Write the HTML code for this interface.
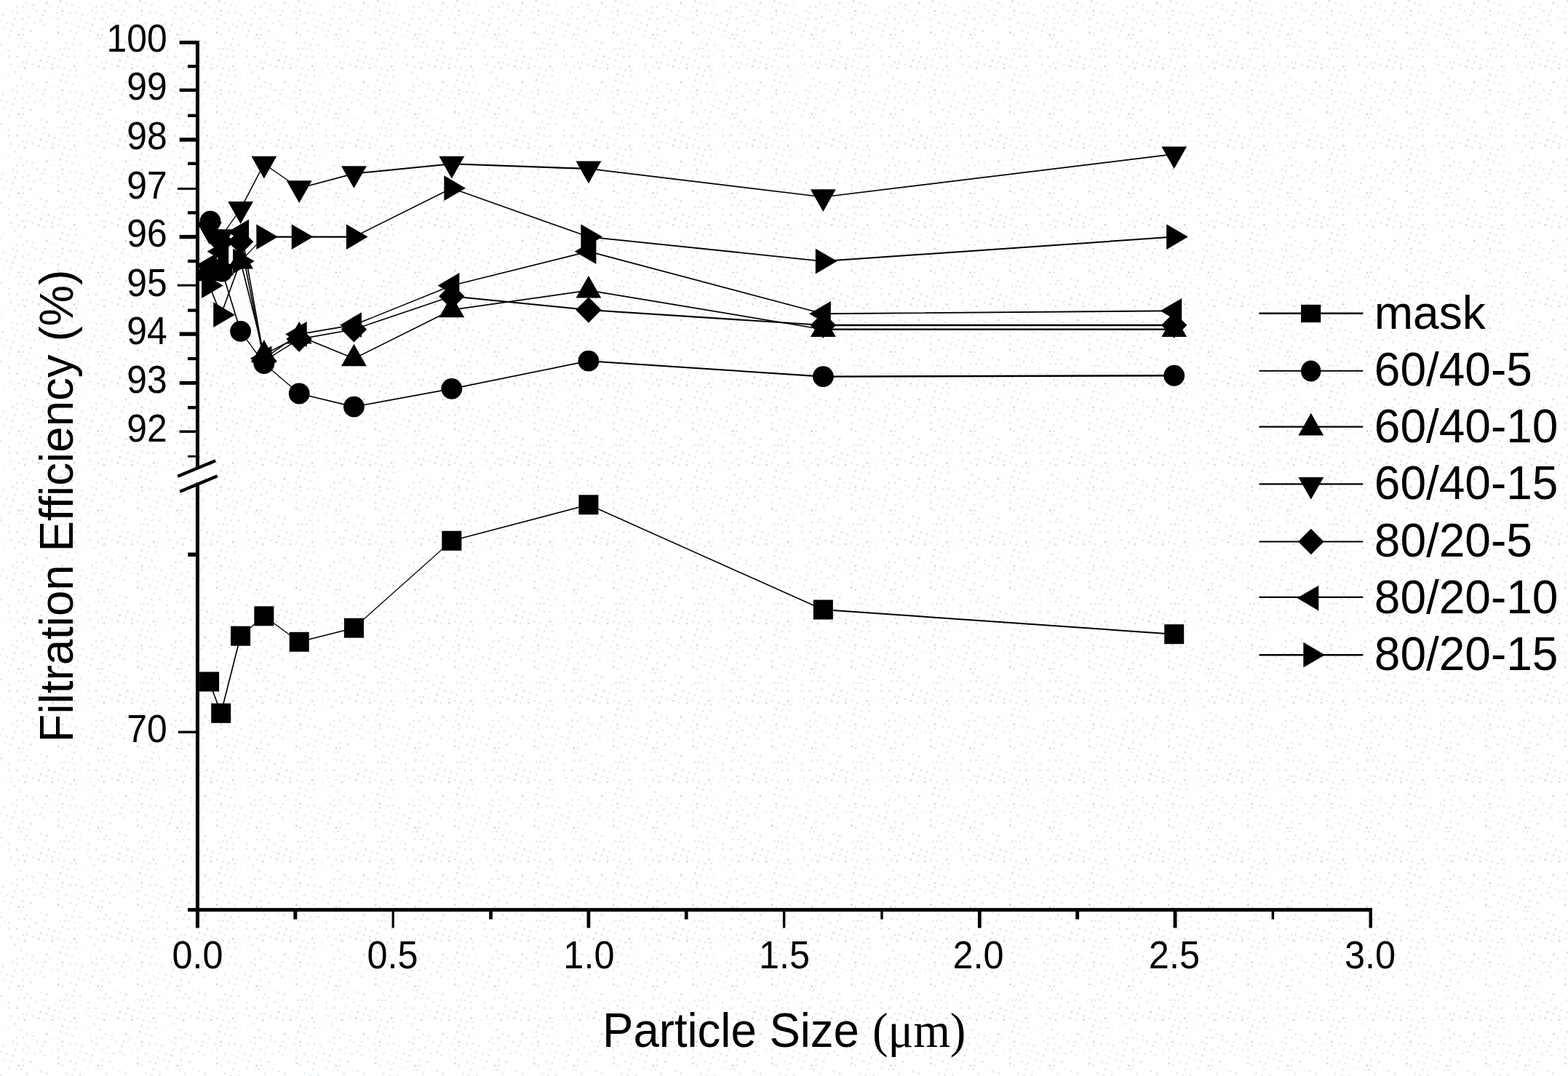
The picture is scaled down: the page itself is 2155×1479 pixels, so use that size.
<!DOCTYPE html>
<html lang="en"><head><meta charset="utf-8">
<title>Filtration Efficiency vs Particle Size</title>
<style>
html,body{margin:0;padding:0;background:#fff;}
body{width:2155px;height:1479px;overflow:hidden;}
svg{display:block;}
text{font-family:"Liberation Sans",sans-serif;fill:#000;}
.tick{font-size:52px;}
.title{font-size:64px;}
.leg{font-size:64px;}
.serif{font-family:"Liberation Serif",serif;}
</style></head><body>
<svg width="2155" height="1479" viewBox="0 0 2155 1479" role="img" aria-label="Filtration efficiency versus particle size">
<defs><pattern id="dots" width="109" height="109" patternUnits="userSpaceOnUse">
<rect x="0" y="0" width="2.7" height="2.7" fill="#effbfb"/><rect x="0" y="27.25" width="2.7" height="2.7" fill="#fcede5"/><rect x="0" y="54.5" width="2.7" height="2.7" fill="#effbfb"/><rect x="106.28" y="84.48" width="2.7" height="2.7" fill="#effbfb"/><rect x="2.73" y="19.07" width="2.7" height="2.7" fill="#e2eee5"/><rect x="0" y="73.58" width="2.7" height="2.7" fill="#effbfb"/><rect x="2.73" y="100.83" width="2.7" height="2.7" fill="#effbfb"/><rect x="5.45" y="38.15" width="2.7" height="2.7" fill="#fcede5"/><rect x="5.45" y="65.4" width="2.7" height="2.7" fill="#effbfb"/><rect x="5.45" y="92.65" width="2.7" height="2.7" fill="#effbfb"/><rect x="8.18" y="29.98" width="2.7" height="2.7" fill="#e2eee5"/><rect x="8.18" y="84.48" width="2.7" height="2.7" fill="#effbfb"/><rect x="10.9" y="49.05" width="2.7" height="2.7" fill="#fcede5"/><rect x="10.9" y="76.3" width="2.7" height="2.7" fill="#e2eee5"/><rect x="10.9" y="103.55" width="2.7" height="2.7" fill="#effbfb"/><rect x="16.35" y="13.62" width="2.7" height="2.7" fill="#e2eee5"/><rect x="13.62" y="40.88" width="2.7" height="2.7" fill="#e2eee5"/><rect x="10.9" y="68.12" width="2.7" height="2.7" fill="#e2eee5"/><rect x="13.62" y="92.65" width="2.7" height="2.7" fill="#effbfb"/><rect x="13.62" y="5.45" width="2.7" height="2.7" fill="#effbfb"/><rect x="16.35" y="32.7" width="2.7" height="2.7" fill="#e0e0ef"/><rect x="13.62" y="87.2" width="2.7" height="2.7" fill="#e2eee5"/><rect x="19.07" y="24.53" width="2.7" height="2.7" fill="#e2eee5"/><rect x="21.8" y="51.77" width="2.7" height="2.7" fill="#fcede5"/><rect x="21.8" y="76.3" width="2.7" height="2.7" fill="#e0e0ef"/><rect x="21.8" y="16.35" width="2.7" height="2.7" fill="#e2eee5"/><rect x="24.53" y="46.33" width="2.7" height="2.7" fill="#dadad2"/><rect x="19.07" y="98.1" width="2.7" height="2.7" fill="#e2eee5"/><rect x="21.8" y="8.18" width="2.7" height="2.7" fill="#e2eee5"/><rect x="24.53" y="62.68" width="2.7" height="2.7" fill="#e2eee5"/><rect x="24.53" y="89.92" width="2.7" height="2.7" fill="#e2eee5"/><rect x="27.25" y="106.28" width="2.7" height="2.7" fill="#e2eee5"/><rect x="29.98" y="24.53" width="2.7" height="2.7" fill="#e2eee5"/><rect x="27.25" y="51.77" width="2.7" height="2.7" fill="#e2eee5"/><rect x="29.98" y="84.48" width="2.7" height="2.7" fill="#e2eee5"/><rect x="32.7" y="16.35" width="2.7" height="2.7" fill="#effbfb"/><rect x="29.98" y="46.33" width="2.7" height="2.7" fill="#e2eee5"/><rect x="29.98" y="8.18" width="2.7" height="2.7" fill="#e2eee5"/><rect x="29.98" y="38.15" width="2.7" height="2.7" fill="#e2eee5"/><rect x="32.7" y="62.68" width="2.7" height="2.7" fill="#e2eee5"/><rect x="32.7" y="92.65" width="2.7" height="2.7" fill="#dadad2"/><rect x="35.43" y="2.73" width="2.7" height="2.7" fill="#e2eee5"/><rect x="35.43" y="29.98" width="2.7" height="2.7" fill="#fcede5"/><rect x="35.43" y="57.23" width="2.7" height="2.7" fill="#e2eee5"/><rect x="35.43" y="84.48" width="2.7" height="2.7" fill="#e2eee5"/><rect x="38.15" y="21.8" width="2.7" height="2.7" fill="#e2eee5"/><rect x="38.15" y="49.05" width="2.7" height="2.7" fill="#effbfb"/><rect x="38.15" y="73.58" width="2.7" height="2.7" fill="#e2eee5"/><rect x="38.15" y="103.55" width="2.7" height="2.7" fill="#effbfb"/><rect x="43.6" y="10.9" width="2.7" height="2.7" fill="#fcede5"/><rect x="40.88" y="40.88" width="2.7" height="2.7" fill="#e0e0ef"/><rect x="43.6" y="5.45" width="2.7" height="2.7" fill="#e2eee5"/><rect x="46.33" y="29.98" width="2.7" height="2.7" fill="#e2eee5"/><rect x="40.88" y="62.68" width="2.7" height="2.7" fill="#e2eee5"/><rect x="43.6" y="87.2" width="2.7" height="2.7" fill="#e2eee5"/><rect x="46.33" y="51.77" width="2.7" height="2.7" fill="#effbfb"/><rect x="46.33" y="79.03" width="2.7" height="2.7" fill="#effbfb"/><rect x="49.05" y="13.62" width="2.7" height="2.7" fill="#e2eee5"/><rect x="49.05" y="68.12" width="2.7" height="2.7" fill="#e2eee5"/><rect x="51.77" y="89.92" width="2.7" height="2.7" fill="#dadad2"/><rect x="54.5" y="0" width="2.7" height="2.7" fill="#effbfb"/><rect x="54.5" y="27.25" width="2.7" height="2.7" fill="#e2eee5"/><rect x="54.5" y="54.5" width="2.7" height="2.7" fill="#e2eee5"/><rect x="54.5" y="81.75" width="2.7" height="2.7" fill="#dadad2"/><rect x="57.23" y="19.07" width="2.7" height="2.7" fill="#e2eee5"/><rect x="57.23" y="73.58" width="2.7" height="2.7" fill="#fcede5"/><rect x="59.95" y="13.62" width="2.7" height="2.7" fill="#e2eee5"/><rect x="59.95" y="65.4" width="2.7" height="2.7" fill="#e2eee5"/><rect x="59.95" y="92.65" width="2.7" height="2.7" fill="#e2eee5"/><rect x="62.68" y="2.73" width="2.7" height="2.7" fill="#dadad2"/><rect x="59.95" y="32.7" width="2.7" height="2.7" fill="#e2eee5"/><rect x="62.68" y="57.23" width="2.7" height="2.7" fill="#e0e0ef"/><rect x="62.68" y="84.48" width="2.7" height="2.7" fill="#e2eee5"/><rect x="65.4" y="21.8" width="2.7" height="2.7" fill="#effbfb"/><rect x="65.4" y="76.3" width="2.7" height="2.7" fill="#e0e0ef"/><rect x="65.4" y="103.55" width="2.7" height="2.7" fill="#effbfb"/><rect x="70.85" y="92.65" width="2.7" height="2.7" fill="#dadad2"/><rect x="68.12" y="8.18" width="2.7" height="2.7" fill="#fcede5"/><rect x="70.85" y="32.7" width="2.7" height="2.7" fill="#effbfb"/><rect x="70.85" y="87.2" width="2.7" height="2.7" fill="#e2eee5"/><rect x="70.85" y="24.53" width="2.7" height="2.7" fill="#fcede5"/><rect x="73.58" y="79.03" width="2.7" height="2.7" fill="#e2eee5"/><rect x="73.58" y="106.28" width="2.7" height="2.7" fill="#effbfb"/><rect x="76.3" y="16.35" width="2.7" height="2.7" fill="#fcede5"/><rect x="79.03" y="43.6" width="2.7" height="2.7" fill="#dadad2"/><rect x="76.3" y="68.12" width="2.7" height="2.7" fill="#effbfb"/><rect x="79.03" y="8.18" width="2.7" height="2.7" fill="#fcede5"/><rect x="79.03" y="35.43" width="2.7" height="2.7" fill="#e2eee5"/><rect x="81.75" y="65.4" width="2.7" height="2.7" fill="#e2eee5"/><rect x="79.03" y="89.92" width="2.7" height="2.7" fill="#e2eee5"/><rect x="81.75" y="0" width="2.7" height="2.7" fill="#e0e0ef"/><rect x="79.03" y="24.53" width="2.7" height="2.7" fill="#e2eee5"/><rect x="81.75" y="81.75" width="2.7" height="2.7" fill="#e2eee5"/><rect x="84.48" y="19.07" width="2.7" height="2.7" fill="#e2eee5"/><rect x="84.48" y="46.33" width="2.7" height="2.7" fill="#e2eee5"/><rect x="84.48" y="73.58" width="2.7" height="2.7" fill="#e2eee5"/><rect x="84.48" y="100.83" width="2.7" height="2.7" fill="#e0e0ef"/><rect x="84.48" y="13.62" width="2.7" height="2.7" fill="#dadad2"/><rect x="87.2" y="38.15" width="2.7" height="2.7" fill="#effbfb"/><rect x="87.2" y="65.4" width="2.7" height="2.7" fill="#e2eee5"/><rect x="87.2" y="92.65" width="2.7" height="2.7" fill="#e2eee5"/><rect x="89.92" y="2.73" width="2.7" height="2.7" fill="#e2eee5"/><rect x="89.92" y="29.98" width="2.7" height="2.7" fill="#e2eee5"/><rect x="89.92" y="57.23" width="2.7" height="2.7" fill="#e2eee5"/><rect x="89.92" y="84.48" width="2.7" height="2.7" fill="#effbfb"/><rect x="92.65" y="76.3" width="2.7" height="2.7" fill="#e2eee5"/><rect x="92.65" y="103.55" width="2.7" height="2.7" fill="#e2eee5"/><rect x="95.38" y="16.35" width="2.7" height="2.7" fill="#e2eee5"/><rect x="95.38" y="40.88" width="2.7" height="2.7" fill="#e2eee5"/><rect x="92.65" y="65.4" width="2.7" height="2.7" fill="#e2eee5"/><rect x="95.38" y="95.38" width="2.7" height="2.7" fill="#e2eee5"/><rect x="98.1" y="5.45" width="2.7" height="2.7" fill="#e2eee5"/><rect x="100.83" y="32.7" width="2.7" height="2.7" fill="#fcede5"/><rect x="98.1" y="59.95" width="2.7" height="2.7" fill="#e2eee5"/><rect x="100.83" y="89.92" width="2.7" height="2.7" fill="#dadad2"/><rect x="100.83" y="24.53" width="2.7" height="2.7" fill="#effbfb"/><rect x="100.83" y="51.77" width="2.7" height="2.7" fill="#e2eee5"/><rect x="100.83" y="76.3" width="2.7" height="2.7" fill="#e2eee5"/><rect x="103.55" y="103.55" width="2.7" height="2.7" fill="#e2eee5"/><rect x="103.55" y="16.35" width="2.7" height="2.7" fill="#e2eee5"/><rect x="103.55" y="43.6" width="2.7" height="2.7" fill="#e2eee5"/><rect x="100.83" y="68.12" width="2.7" height="2.7" fill="#fcede5"/><rect x="103.55" y="95.38" width="2.7" height="2.7" fill="#e2eee5"/><rect x="106.28" y="8.18" width="2.7" height="2.7" fill="#effbfb"/><rect x="106.28" y="35.43" width="2.7" height="2.7" fill="#e2eee5"/><rect x="0" y="59.95" width="2.7" height="2.7" fill="#e2eee5"/><rect x="106.28" y="89.92" width="2.7" height="2.7" fill="#effbfb"/>
</pattern>
<clipPath id="plotclip"><rect x="273.8" y="0" width="2155" height="1479"/></clipPath></defs>
<rect x="0" y="0" width="2155" height="1479" fill="#ffffff"/>
<rect x="0" y="0" width="2155" height="1479" fill="url(#dots)"/>
<g id="axes" fill="#000" stroke="none">
<rect x="269" y="56" width="5" height="587.5"/>
<rect x="269" y="663.5" width="5" height="589.6"/>
<rect x="258" y="1248.1" width="1628" height="5"/>
<rect x="246.7" y="55.9" width="24.8" height="5"/>
<rect x="258" y="89.05" width="13.5" height="4.3"/>
<rect x="246.7" y="121.6" width="24.8" height="4.6"/>
<rect x="258" y="156.75" width="13.5" height="4.3"/>
<rect x="246.7" y="189.3" width="24.8" height="5.4"/>
<rect x="258" y="222.65" width="13.5" height="4.3"/>
<rect x="244" y="257.9" width="27.5" height="3"/>
<rect x="258" y="290.25" width="13.5" height="4.3"/>
<rect x="246.7" y="322.9" width="24.8" height="5.4"/>
<rect x="258" y="356.85" width="13.5" height="4.3"/>
<rect x="244" y="390.7" width="27.5" height="3"/>
<rect x="258" y="424.45" width="13.5" height="4.3"/>
<rect x="246.7" y="456.4" width="24.8" height="5.4"/>
<rect x="258" y="490.85" width="13.5" height="4.3"/>
<rect x="246.7" y="523.95" width="24.8" height="4.9"/>
<rect x="258" y="558.05" width="13.5" height="4.3"/>
<rect x="246.7" y="591.45" width="24.8" height="3.5"/>
<rect x="258" y="625.9" width="13.5" height="2.8"/>
<rect x="258.3" y="759.5" width="13.2" height="5.6"/>
<rect x="245" y="1004.6" width="26.5" height="3.4"/>
<rect x="269" y="1250.6" width="5" height="24.9"/>
<rect x="403.35" y="1250.6" width="5" height="13"/>
<rect x="538.6" y="1250.6" width="3.2" height="24.9"/>
<rect x="672.2" y="1250.6" width="4.7" height="13"/>
<rect x="806.55" y="1250.6" width="4.7" height="24.9"/>
<rect x="940.9" y="1250.6" width="4.7" height="13"/>
<rect x="1075.9" y="1250.6" width="3.4" height="24.9"/>
<rect x="1210.25" y="1250.6" width="3.4" height="13"/>
<rect x="1343.95" y="1250.6" width="4.7" height="24.9"/>
<rect x="1478.2" y="1250.6" width="4.9" height="13"/>
<rect x="1612.55" y="1250.6" width="4.9" height="24.9"/>
<rect x="1747.6" y="1250.6" width="3.5" height="13"/>
<rect x="1881.5" y="1250.6" width="4.4" height="24.9"/>
</g>
<g id="break" stroke="#000" stroke-width="4.4" stroke-linecap="butt" fill="none">
<line x1="244.3" y1="654.7" x2="296.2" y2="633.3"/>
<line x1="247.2" y1="675.7" x2="298.8" y2="654.3"/>
</g>
<g id="ylabels">
<g transform="translate(229.7 71.3) scale(0.96 1.04)"><text class="tick" text-anchor="end">100</text></g>
<g transform="translate(229.7 136.5) scale(0.96 1.04)"><text class="tick" text-anchor="end">99</text></g>
<g transform="translate(229.7 205) scale(0.96 1.04)"><text class="tick" text-anchor="end">98</text></g>
<g transform="translate(229.7 273.3) scale(0.96 1.04)"><text class="tick" text-anchor="end">97</text></g>
<g transform="translate(229.7 338.8) scale(0.96 1.04)"><text class="tick" text-anchor="end">96</text></g>
<g transform="translate(229.7 407) scale(0.96 1.04)"><text class="tick" text-anchor="end">95</text></g>
<g transform="translate(229.7 472.6) scale(0.96 1.04)"><text class="tick" text-anchor="end">94</text></g>
<g transform="translate(229.7 540.1) scale(0.96 1.04)"><text class="tick" text-anchor="end">93</text></g>
<g transform="translate(229.7 606.8) scale(0.96 1.04)"><text class="tick" text-anchor="end">92</text></g>
<g transform="translate(229.7 1019.9) scale(0.96 1.04)"><text class="tick" text-anchor="end">70</text></g>
</g>
<g id="xlabels">
<g transform="translate(271.5 1331.4) scale(0.97 1.04)"><text class="tick" text-anchor="middle">0.0</text></g>
<g transform="translate(539.5 1331.4) scale(0.97 1.04)"><text class="tick" text-anchor="middle">0.5</text></g>
<g transform="translate(809.4 1331.4) scale(0.97 1.04)"><text class="tick" text-anchor="middle">1.0</text></g>
<g transform="translate(1078 1331.4) scale(0.97 1.04)"><text class="tick" text-anchor="middle">1.5</text></g>
<g transform="translate(1344.6 1331.4) scale(0.97 1.04)"><text class="tick" text-anchor="middle">2.0</text></g>
<g transform="translate(1613.9 1331.4) scale(0.97 1.04)"><text class="tick" text-anchor="middle">2.5</text></g>
<g transform="translate(1883 1331.4) scale(0.97 1.04)"><text class="tick" text-anchor="middle">3.0</text></g>
</g>
<g transform="translate(100.2 695.5) rotate(-90) scale(0.995 1)"><text class="title" text-anchor="middle">Filtration Efficiency (%)</text></g>
<g transform="translate(828.1 1438.9) scale(0.992 1.05)"><text class="title"><tspan>Particle Size </tspan><tspan class="serif" dx="0.5" font-size="65.4">(μm)</tspan></text></g>
<g id="data" clip-path="url(#plotclip)">
<g class="series">
<g stroke="#000" stroke-linecap="round" fill="none"><line x1="287.62" y1="937" x2="303.74" y2="980.3" stroke-width="1.61"/><line x1="303.74" y1="980.3" x2="330.61" y2="874.2" stroke-width="1.66"/><line x1="330.61" y1="874.2" x2="362.86" y2="846.8" stroke-width="1.31"/><line x1="362.86" y1="846.8" x2="411.22" y2="882.3" stroke-width="1.38"/><line x1="411.22" y1="882.3" x2="486.46" y2="863.2" stroke-width="1.66"/><line x1="486.46" y1="863.2" x2="620.81" y2="743.3" stroke-width="1.28"/><line x1="620.81" y1="743.3" x2="808.9" y2="693.8" stroke-width="1.66"/><line x1="808.9" y1="693.8" x2="1131.34" y2="838" stroke-width="1.57"/><line x1="1131.34" y1="838" x2="1613.7" y2="871.7" stroke-width="2.03"/></g>
<g fill="#000"><rect x="274.12" y="923.5" width="27" height="27"/><rect x="290.24" y="966.8" width="27" height="27"/><rect x="317.11" y="860.7" width="27" height="27"/><rect x="349.36" y="833.3" width="27" height="27"/><rect x="397.72" y="868.8" width="27" height="27"/><rect x="472.96" y="849.7" width="27" height="27"/><rect x="607.31" y="729.8" width="27" height="27"/><rect x="795.4" y="680.3" width="27" height="27"/><rect x="1117.84" y="824.5" width="27" height="27"/><rect x="1600.2" y="858.2" width="27" height="27"/></g>
</g>
<g class="series">
<g stroke="#000" stroke-linecap="round" fill="none"><line x1="289" y1="304.19" x2="305.3" y2="373.1" stroke-width="1.67"/><line x1="305.3" y1="373.1" x2="330.61" y2="455.39" stroke-width="1.64"/><line x1="330.61" y1="455.39" x2="362.86" y2="499.54" stroke-width="1.39"/><line x1="362.86" y1="499.54" x2="411.22" y2="541.02" stroke-width="1.3"/><line x1="411.22" y1="541.02" x2="486.46" y2="559.08" stroke-width="1.67"/><line x1="486.46" y1="559.08" x2="620.81" y2="534.33" stroke-width="1.69"/><line x1="620.81" y1="534.33" x2="808.9" y2="496.19" stroke-width="1.68"/><line x1="808.9" y1="496.19" x2="1131.34" y2="517.6" stroke-width="2.06"/><line x1="1131.34" y1="517.6" x2="1613.7" y2="516.26" stroke-width="2.43"/></g>
<g fill="#000"><circle cx="289" cy="304.19" r="14.4"/><circle cx="305.3" cy="373.1" r="14.4"/><circle cx="330.61" cy="455.39" r="14.4"/><circle cx="362.86" cy="499.54" r="14.4"/><circle cx="411.22" cy="541.02" r="14.4"/><circle cx="486.46" cy="559.08" r="14.4"/><circle cx="620.81" cy="534.33" r="14.4"/><circle cx="808.9" cy="496.19" r="14.4"/><circle cx="1131.34" cy="517.6" r="14.4"/><circle cx="1613.7" cy="516.26" r="14.4"/></g>
</g>
<g class="series">
<g stroke="#000" stroke-linecap="round" fill="none"><line x1="287.62" y1="375.78" x2="303.74" y2="367.75" stroke-width="1.54"/><line x1="303.74" y1="367.75" x2="330.61" y2="359.05" stroke-width="1.63"/><line x1="330.61" y1="359.05" x2="362.86" y2="487.5" stroke-width="1.66"/><line x1="362.86" y1="487.5" x2="411.22" y2="462.08" stroke-width="1.52"/><line x1="411.22" y1="462.08" x2="486.46" y2="492.85" stroke-width="1.59"/><line x1="486.46" y1="492.85" x2="620.81" y2="425.95" stroke-width="1.54"/><line x1="620.81" y1="425.95" x2="808.9" y2="399.19" stroke-width="1.7"/><line x1="808.9" y1="399.19" x2="1131.34" y2="452.71" stroke-width="1.69"/><line x1="1131.34" y1="452.71" x2="1613.7" y2="452.71" stroke-width="2.45"/></g>
<g fill="#000"><polygon points="287.62,355.58 305.02,386.18 270.22,386.18"/><polygon points="303.74,347.55 321.14,378.15 286.34,378.15"/><polygon points="330.61,338.85 348.01,369.45 313.21,369.45"/><polygon points="362.86,467.3 380.26,497.9 345.46,497.9"/><polygon points="411.22,441.88 428.62,472.48 393.82,472.48"/><polygon points="486.46,472.65 503.86,503.25 469.06,503.25"/><polygon points="620.81,405.75 638.21,436.35 603.41,436.35"/><polygon points="808.9,378.99 826.3,409.59 791.5,409.59"/><polygon points="1131.34,432.51 1148.74,463.11 1113.94,463.11"/><polygon points="1613.7,432.51 1631.1,463.11 1596.3,463.11"/></g>
</g>
<g class="series">
<g stroke="#000" stroke-linecap="round" fill="none"><line x1="287.62" y1="315.56" x2="303.74" y2="325.6" stroke-width="1.46"/><line x1="303.74" y1="325.6" x2="330.61" y2="287.47" stroke-width="1.4"/><line x1="330.61" y1="287.47" x2="362.86" y2="225.25" stroke-width="1.52"/><line x1="362.86" y1="225.25" x2="411.22" y2="258.7" stroke-width="1.41"/><line x1="411.22" y1="258.7" x2="486.46" y2="238.63" stroke-width="1.66"/><line x1="486.46" y1="238.63" x2="620.81" y2="225.25" stroke-width="1.86"/><line x1="620.81" y1="225.25" x2="808.9" y2="231.94" stroke-width="2.24"/><line x1="808.9" y1="231.94" x2="1131.34" y2="270.74" stroke-width="1.73"/><line x1="1131.34" y1="270.74" x2="1613.7" y2="211.87" stroke-width="1.72"/></g>
<g fill="#000"><polygon points="287.62,335.76 305.02,305.16 270.22,305.16"/><polygon points="303.74,345.8 321.14,315.2 286.34,315.2"/><polygon points="330.61,307.67 348.01,277.07 313.21,277.07"/><polygon points="362.86,245.45 380.26,214.85 345.46,214.85"/><polygon points="411.22,278.9 428.62,248.3 393.82,248.3"/><polygon points="486.46,258.83 503.86,228.23 469.06,228.23"/><polygon points="620.81,245.45 638.21,214.85 603.41,214.85"/><polygon points="808.9,252.14 826.3,221.54 791.5,221.54"/><polygon points="1131.34,290.94 1148.74,260.34 1113.94,260.34"/><polygon points="1613.7,232.07 1631.1,201.47 1596.3,201.47"/></g>
</g>
<g class="series">
<g stroke="#000" stroke-linecap="round" fill="none"><line x1="287.62" y1="374.44" x2="303.74" y2="332.29" stroke-width="1.6"/><line x1="303.74" y1="332.29" x2="330.61" y2="332.29" stroke-width="2.45"/><line x1="330.61" y1="332.29" x2="362.86" y2="496.19" stroke-width="1.68"/><line x1="362.86" y1="496.19" x2="411.22" y2="466.09" stroke-width="1.46"/><line x1="411.22" y1="466.09" x2="486.46" y2="452.71" stroke-width="1.69"/><line x1="486.46" y1="452.71" x2="620.81" y2="407.22" stroke-width="1.62"/><line x1="620.81" y1="407.22" x2="808.9" y2="425.95" stroke-width="1.86"/><line x1="808.9" y1="425.95" x2="1131.34" y2="447.02" stroke-width="2.06"/><line x1="1131.34" y1="447.02" x2="1613.7" y2="447.02" stroke-width="2.45"/></g>
<g fill="#000"><polygon points="287.62,356.74 305.32,374.44 287.62,392.14 269.92,374.44"/><polygon points="303.74,314.59 321.44,332.29 303.74,349.99 286.04,332.29"/><polygon points="330.61,314.59 348.31,332.29 330.61,349.99 312.91,332.29"/><polygon points="362.86,478.49 380.56,496.19 362.86,513.89 345.16,496.19"/><polygon points="411.22,448.39 428.92,466.09 411.22,483.79 393.52,466.09"/><polygon points="486.46,435.01 504.16,452.71 486.46,470.41 468.76,452.71"/><polygon points="620.81,389.52 638.51,407.22 620.81,424.92 603.11,407.22"/><polygon points="808.9,408.25 826.6,425.95 808.9,443.65 791.2,425.95"/><polygon points="1131.34,429.32 1149.04,447.02 1131.34,464.72 1113.64,447.02"/><polygon points="1613.7,429.32 1631.4,447.02 1613.7,464.72 1596,447.02"/></g>
</g>
<g class="series">
<g stroke="#000" stroke-linecap="round" fill="none"><line x1="287.62" y1="365.07" x2="303.74" y2="345.67" stroke-width="1.32"/><line x1="303.74" y1="345.67" x2="331.6" y2="318.91" stroke-width="1.24"/><line x1="331.6" y1="318.91" x2="362.86" y2="492.85" stroke-width="1.69"/><line x1="362.86" y1="492.85" x2="411.22" y2="459.4" stroke-width="1.41"/><line x1="411.22" y1="459.4" x2="486.46" y2="446.69" stroke-width="1.69"/><line x1="486.46" y1="446.69" x2="620.81" y2="392.5" stroke-width="1.59"/><line x1="620.81" y1="392.5" x2="808.9" y2="345.67" stroke-width="1.66"/><line x1="808.9" y1="345.67" x2="1131.34" y2="431.3" stroke-width="1.66"/><line x1="1131.34" y1="431.3" x2="1613.7" y2="427.29" stroke-width="1.9"/></g>
<g fill="#000"><polygon points="268.42,365.07 298.12,347.67 298.12,382.47"/><polygon points="284.54,345.67 314.24,328.27 314.24,363.07"/><polygon points="312.4,318.91 342.1,301.51 342.1,336.31"/><polygon points="343.66,492.85 373.36,475.45 373.36,510.25"/><polygon points="392.02,459.4 421.72,442 421.72,476.8"/><polygon points="467.26,446.69 496.96,429.29 496.96,464.09"/><polygon points="601.61,392.5 631.31,375.1 631.31,409.9"/><polygon points="789.7,345.67 819.4,328.27 819.4,363.07"/><polygon points="1112.14,431.3 1141.84,413.9 1141.84,448.7"/><polygon points="1594.5,427.29 1624.2,409.89 1624.2,444.69"/></g>
</g>
<g class="series">
<g stroke="#000" stroke-linecap="round" fill="none"><line x1="287.62" y1="392.5" x2="303.74" y2="432.64" stroke-width="1.59"/><line x1="303.74" y1="432.64" x2="330.61" y2="359.05" stroke-width="1.61"/><line x1="330.61" y1="359.05" x2="362.86" y2="325.6" stroke-width="1.23"/><line x1="362.86" y1="325.6" x2="411.22" y2="325.6" stroke-width="2.45"/><line x1="411.22" y1="325.6" x2="486.46" y2="325.6" stroke-width="2.45"/><line x1="486.46" y1="325.6" x2="620.81" y2="258.7" stroke-width="1.54"/><line x1="620.81" y1="258.7" x2="808.9" y2="325.6" stroke-width="1.62"/><line x1="808.9" y1="325.6" x2="1131.34" y2="359.05" stroke-width="1.83"/><line x1="1131.34" y1="359.05" x2="1613.7" y2="325.6" stroke-width="2.04"/></g>
<g fill="#000"><polygon points="306.82,392.5 277.12,375.1 277.12,409.9"/><polygon points="322.94,432.64 293.24,415.24 293.24,450.04"/><polygon points="349.81,359.05 320.11,341.65 320.11,376.45"/><polygon points="382.06,325.6 352.36,308.2 352.36,343"/><polygon points="430.42,325.6 400.72,308.2 400.72,343"/><polygon points="505.66,325.6 475.96,308.2 475.96,343"/><polygon points="640.01,258.7 610.31,241.3 610.31,276.1"/><polygon points="828.1,325.6 798.4,308.2 798.4,343"/><polygon points="1150.54,359.05 1120.84,341.65 1120.84,376.45"/><polygon points="1632.9,325.6 1603.2,308.2 1603.2,343"/></g>
</g>
</g>
<g id="legend">
<line x1="1730.5" y1="430.8" x2="1873.3" y2="430.8" stroke="#000" stroke-width="2.4"/>
<rect x="1788.1" y="418.8" width="27.1" height="24.4" fill="#000"/>
<g transform="translate(1888.8 452) scale(1 1.02)"><text class="leg" text-anchor="start">mask</text></g>
<line x1="1730.5" y1="509.7" x2="1873.3" y2="509.7" stroke="#000" stroke-width="2"/>
<ellipse cx="1801.7" cy="509.9" rx="13.7" ry="14.5" fill="#000"/>
<g transform="translate(1888.8 529.7) scale(1 1.02)"><text class="leg" text-anchor="start">60/40-5</text></g>
<line x1="1730.5" y1="586.6" x2="1873.3" y2="586.6" stroke="#000" stroke-width="2.4"/>
<g fill="#000"><polygon points="1801.8,567.8 1819.2,598.4 1784.4,598.4"/></g>
<g transform="translate(1888.8 608) scale(1 1.02)"><text class="leg" text-anchor="start">60/40-10</text></g>
<line x1="1730.5" y1="665.4" x2="1873.3" y2="665.4" stroke="#000" stroke-width="2.4"/>
<g fill="#000"><polygon points="1801.8,686.6 1819.2,656 1784.4,656"/></g>
<g transform="translate(1888.8 686.3) scale(1 1.02)"><text class="leg" text-anchor="start">60/40-15</text></g>
<line x1="1730.5" y1="744.5" x2="1873.3" y2="744.5" stroke="#000" stroke-width="2"/>
<g fill="#000"><polygon points="1801.8,726.8 1819.5,744.5 1801.8,762.2 1784.1,744.5"/></g>
<g transform="translate(1888.8 764.6) scale(1 1.02)"><text class="leg" text-anchor="start">80/20-5</text></g>
<line x1="1730.5" y1="820.9" x2="1873.3" y2="820.9" stroke="#000" stroke-width="2.4"/>
<g fill="#000"><polygon points="1782.6,822.1 1812.3,804.7 1812.3,839.5"/></g>
<g transform="translate(1888.8 842.9) scale(1 1.02)"><text class="leg" text-anchor="start">80/20-10</text></g>
<line x1="1730.5" y1="900.2" x2="1873.3" y2="900.2" stroke="#000" stroke-width="2.4"/>
<g fill="#000"><polygon points="1821,900.2 1791.3,882.8 1791.3,917.6"/></g>
<g transform="translate(1888.8 921.2) scale(1 1.02)"><text class="leg" text-anchor="start">80/20-15</text></g>
</g>
</svg>
</body></html>
